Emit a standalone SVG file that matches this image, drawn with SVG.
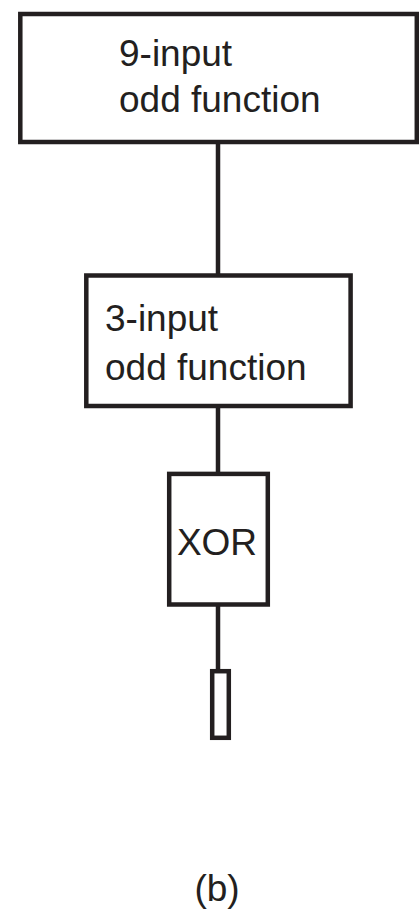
<svg xmlns="http://www.w3.org/2000/svg" width="419" height="911" viewBox="0 0 419 911">
<style>
.box{fill:#fff;stroke:#231f20;stroke-width:4.5}
.wire{stroke:#231f20;stroke-width:4.5;fill:none}
text{font-family:"Liberation Sans",Arial,Helvetica,sans-serif;font-size:37px;fill:#231f20}
</style>
<rect width="419" height="911" fill="#fff"/>
<g id="connectors">
<line class="wire" x1="218" y1="142" x2="218" y2="276"/>
<line class="wire" x1="218" y1="406" x2="218" y2="474"/>
<line class="wire" x1="218" y1="605" x2="218" y2="671"/>
</g>
<g id="node-9input">
<rect class="box" x="20.3" y="14" width="396.5" height="128"/>
<text x="119" y="66">9-input</text>
<text x="119" y="112">odd function</text>
</g>
<g id="node-3input">
<rect class="box" x="86.3" y="275.5" width="264.3" height="130.5"/>
<text x="105" y="331">3-input</text>
<text x="105" y="380">odd function</text>
</g>
<g id="node-xor">
<rect class="box" x="169.2" y="473.9" width="98.6" height="130.6"/>
<text x="217" y="555" text-anchor="middle">XOR</text>
</g>
<g id="node-output">
<rect class="box" x="212.2" y="671.2" width="16.6" height="66.6"/>
</g>
<g id="caption">
<text x="217" y="901" text-anchor="middle">(b)</text>
</g>
</svg>
